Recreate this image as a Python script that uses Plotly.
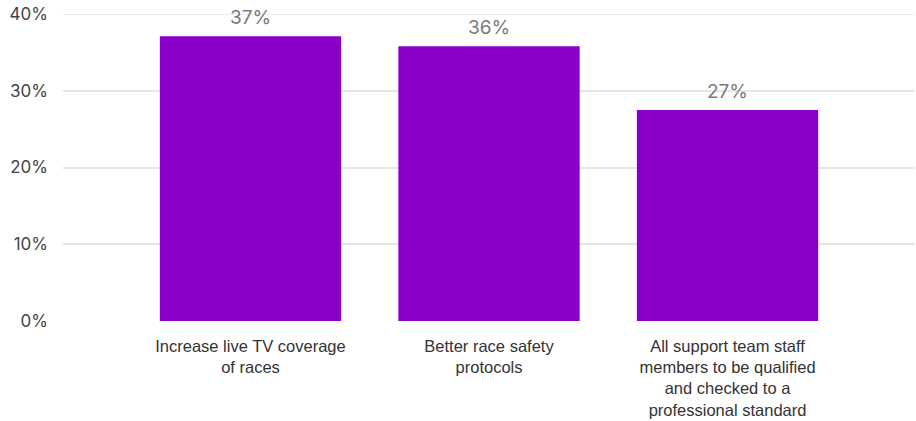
import plotly.graph_objects as go

categories = [
    "Increase live TV coverage<br>of races",
    "Better race safety<br>protocols",
    "All support team staff<br>members to be qualified<br>and checked to a<br>professional standard",
]
values = [37.1, 35.8, 27.5]
labels = ["37%", "36%", "27%"]
tick_vals = [0, 10, 20, 30, 40]
tick_text = ["0%", "10%", "20%", "30%", "40%"]

fig = go.Figure(go.Bar(
    x=[0, 1, 2], y=values, marker_color="#8A00C8", width=0.76,
    marker_line_width=0, hoverinfo="skip",
))
for i, (v, t) in enumerate(zip(values, labels)):
    fig.add_annotation(x=i, y=v, text=t, showarrow=False, yanchor="bottom",
                       yshift=5, font=dict(size=19, color="#7a7a7a", family="Inter"))

# top gridline (plotly omits it at the range edge)
fig.add_shape(type="line", xref="paper", yref="y", x0=0, x1=1,
              y0=tick_vals[-1], y1=tick_vals[-1],
              line=dict(color="#e6e6e6", width=1.5), layer="below")

fig.update_layout(
    width=916, height=421,
    margin=dict(l=63, r=1, t=14, b=100, autoexpand=False),
    plot_bgcolor="white", paper_bgcolor="white",
    showlegend=False,
    xaxis=dict(range=[-0.786, 2.786], tickvals=[0, 1, 2], ticktext=categories,
               showgrid=False, zeroline=False, showline=False, ticks="",
               ticklabelstandoff=13, automargin=False,
               tickfont=dict(size=16.5, color="#333333", family="Liberation Sans")),
    yaxis=dict(range=[0, 40], tickvals=tick_vals, ticktext=tick_text,
               showgrid=True, gridcolor="#e6e6e6", gridwidth=1.5, zeroline=False,
               showline=False, ticks="", ticklabelstandoff=14, automargin=False,
               tickfont=dict(size=17, color="#444444", family="Inter")),
)
fig.write_html("out.html", config={"displayModeBar": False},
               post_script="document.body.style.margin='0';document.body.style.padding='0';")
